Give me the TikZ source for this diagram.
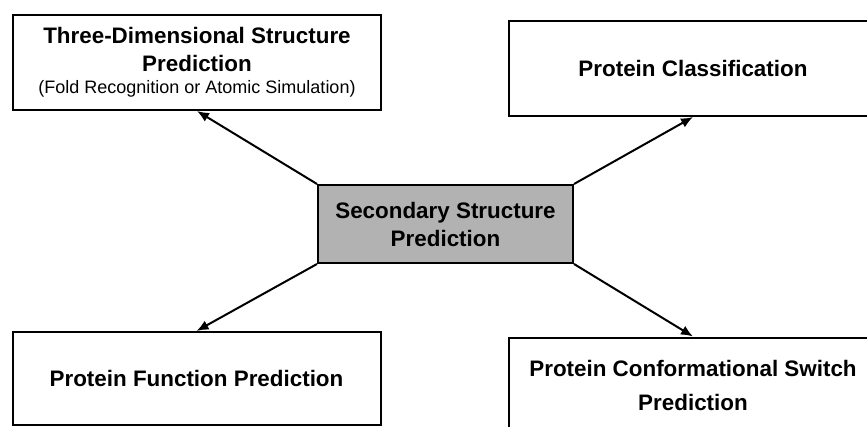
\documentclass[tikz,border=0pt]{standalone}
\usepackage{fontspec}
\setmainfont{Liberation Sans}
\usetikzlibrary{arrows.meta}

\begin{document}
\begin{tikzpicture}[x=0.5pt,y=-0.5pt,
  box/.style={draw,line width=1pt,minimum width=184pt,minimum height=47.5pt,inner sep=0pt,align=center,font=\bfseries\fontsize{11.2}{14}\selectfont},
  link/.style={line width=1pt,-{Latex[length=6pt,width=5pt]}}]
\useasboundingbox (0,0) rectangle (867,427);
\clip (0,0) rectangle (867,427);

\node[box] (tds) at (197,62.5) {Three-Dimensional Structure\\Prediction\\[-3pt]{\mdseries\fontsize{9}{11}\selectfont (Fold Recognition or Atomic Simulation)}};
\node[box] (cls) at (693,68.5) {Protein Classification};

\node[box,fill=black!30,minimum width=127.5pt,minimum height=39pt] (ssp) at (445.5,224) {Secondary Structure\\Prediction};

\node[box,minimum height=46.5pt] (fun) at (196.5,378.5) {Protein Function Prediction};
\node[box] (sw) at (693,385) {Protein Conformational Switch\\[3pt]Prediction};

\draw[link] (ssp.north west) -- (tds.south);
\draw[link] (ssp.north east) -- (cls.south);
\draw[link] (ssp.south west) -- (fun.north);
\draw[link] (ssp.south east) -- (sw.north);

\end{tikzpicture}
\end{document}
